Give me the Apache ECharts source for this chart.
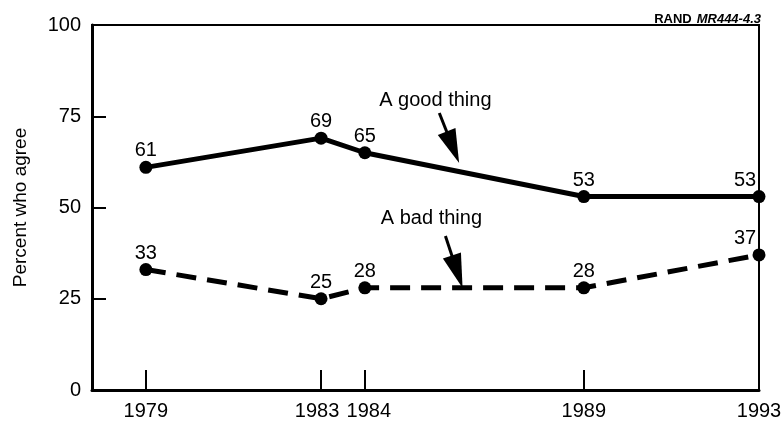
<!DOCTYPE html>
<html>
<head>
<meta charset="utf-8">
<script src="https://cdn.jsdelivr.net/npm/echarts@6/dist/echarts.min.js"></script>
<style>
  html, body { margin: 0; padding: 0; background: #fff; }
  #chart { width: 781px; height: 421px; }
</style>
</head>
<body>
<div id="chart"></div>
<script>
var years = [1979, 1983, 1984, 1989, 1993];
var goodThing = [61, 69, 65, 53, 53];
var badThing = [33, 25, 28, 28, 37];
var yTicks = [0, 25, 50, 75, 100];

var font = 'Liberation Sans, Arial, Helvetica, sans-serif';

function toPoints(vals) {
    return vals.map(function (v, i) {
        var item = { value: [years[i], v] };
        // last point sits on the right border, its label is pushed left
        if (i === vals.length - 1) {
            item.label = { offset: [-14, 0] };
        }
        return item;
    });
}

var myChart = echarts.init(document.getElementById('chart'));

var option = {
    animation: false,
    backgroundColor: '#fff',
    textStyle: { fontFamily: font },
    title: {
        right: 15,
        top: 5,
        text: '{b|RAND} {i|MR444-4.3}',
        textStyle: {
            rich: {
                b: { fontFamily: font, fontWeight: 'bold', fontSize: 13, color: '#000' },
                i: { fontFamily: font, fontStyle: 'italic', fontSize: 13, color: '#000' }
            }
        }
    },
    grid: {
        left: 92,
        right: 22,
        top: 25,
        bottom: 31,
        containLabel: false,
        outerBoundsMode: 'none',
        show: true,
        borderColor: '#000',
        borderWidth: 2
    },
    xAxis: {
        type: 'value',
        min: 1977.77,
        max: 1993,
        splitLine: { show: false },
        axisLine: { lineStyle: { color: '#000', width: 3 } },
        axisTick: {
            inside: true,
            length: 20,
            customValues: years,
            lineStyle: { color: '#000', width: 2 }
        },
        axisLabel: {
            customValues: years,
            color: '#000',
            fontSize: 20,
            fontFamily: font,
            margin: 11,
            // 1983 and 1984 are close together, nudge them apart a little
            formatter: function (v) {
                if (v === 1983) return '{l|' + v + '}';
                if (v === 1984) return '{r|' + v + '}';
                return String(v);
            },
            rich: {
                l: { fontSize: 20, fontFamily: font, color: '#000', padding: [0, 8, 0, 0] },
                r: { fontSize: 20, fontFamily: font, color: '#000', padding: [0, 0, 0, 8] }
            }
        }
    },
    yAxis: {
        type: 'value',
        min: 0,
        max: 100,
        interval: 25,
        name: 'Percent who agree',
        nameLocation: 'middle',
        nameGap: 62,
        nameTextStyle: { color: '#000', fontSize: 19, fontFamily: font },
        splitLine: { show: false },
        axisLine: { lineStyle: { color: '#000', width: 3 } },
        axisTick: {
            inside: true,
            length: 14,
            customValues: yTicks,
            lineStyle: { color: '#000', width: 2 }
        },
        axisLabel: {
            color: '#000',
            fontSize: 20,
            fontFamily: font,
            margin: 11
        }
    },
    series: [
        {
            name: 'A good thing',
            type: 'line',
            data: toPoints(goodThing),
            symbol: 'circle',
            symbolSize: 13,
            itemStyle: { color: '#000' },
            lineStyle: { color: '#000', width: 5 },
            label: {
                show: true,
                position: 'top',
                distance: 0,
                color: '#000',
                fontSize: 20,
                fontFamily: font,
                formatter: function (p) { return p.value[1]; }
            },
            markPoint: {
                symbol: 'circle',
                symbolSize: 0,
                label: { show: true, color: '#000', fontSize: 20, fontFamily: font, formatter: '{b}' },
                data: [{ name: 'A good thing', coord: [1985.61, 79.45] }]
            },
            markLine: {
                silent: true,
                symbol: ['none', 'triangle'],
                symbolSize: [19, 34],
                label: { show: false },
                lineStyle: { color: '#000', width: 3, type: 'solid' },
                data: [[{ coord: [1985.70, 75.9] }, { coord: [1986.01, 66.5] }]]
            }
        },
        {
            name: 'A bad thing',
            type: 'line',
            data: toPoints(badThing),
            symbol: 'circle',
            symbolSize: 13,
            itemStyle: { color: '#000' },
            lineStyle: { color: '#000', width: 5, type: [20, 11] },
            label: {
                show: true,
                position: 'top',
                distance: 0,
                color: '#000',
                fontSize: 20,
                fontFamily: font,
                formatter: function (p) { return p.value[1]; }
            },
            markPoint: {
                symbol: 'circle',
                symbolSize: 0,
                label: { show: true, color: '#000', fontSize: 20, fontFamily: font, formatter: '{b}' },
                data: [{ name: 'A bad thing', coord: [1985.52, 47.1] }]
            },
            markLine: {
                silent: true,
                symbol: ['none', 'triangle'],
                symbolSize: [19, 34],
                label: { show: false },
                lineStyle: { color: '#000', width: 3, type: 'solid' },
                data: [[{ coord: [1985.84, 42.2] }, { coord: [1986.11, 32.4] }]]
            }
        }
    ]
};

myChart.setOption(option);
</script>
</body>
</html>
